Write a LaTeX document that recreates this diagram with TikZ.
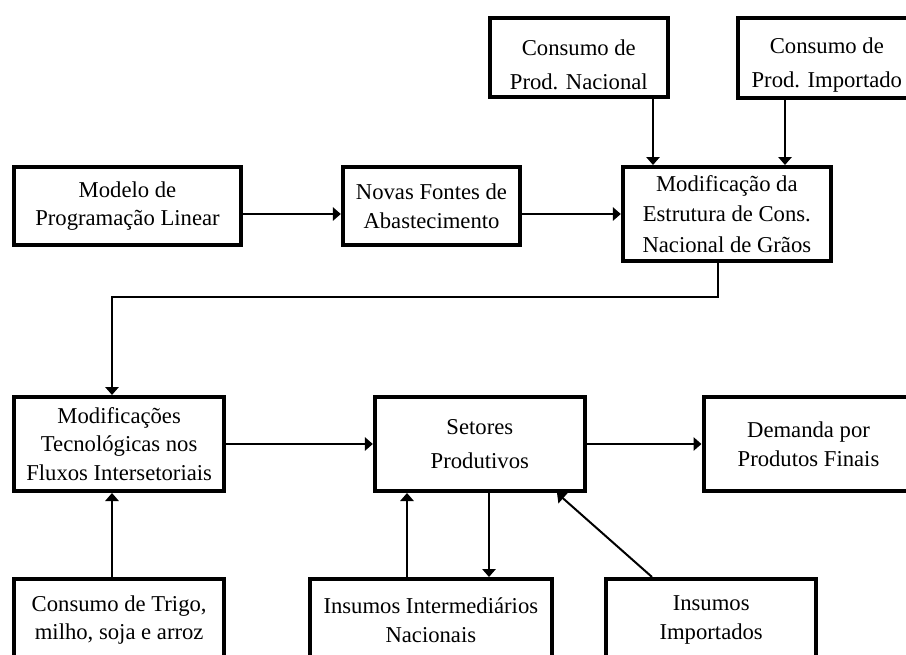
\documentclass[tikz,border=0pt]{standalone}
\usepackage{fontspec}
\setmainfont{Liberation Serif}
\usetikzlibrary{arrows.meta, positioning}

\begin{document}
\begin{tikzpicture}[
    x=0.75pt, y=-0.75pt,
    bloco/.style={rectangle, draw=black, line width=3pt, fill=white,
                 minimum width=157.5pt, minimum height=70.5pt,
                 font=\fontsize{17}{21.5}\selectfont, align=center, inner sep=4pt},
    seta/.style={line width=1.5pt, -{Triangle[width=10pt, length=6pt]}},
  ]
    \clip (0,0) rectangle (906,654);
    \useasboundingbox (0,0) rectangle (906,654);

    % linha de cima
    \node[bloco, minimum width=170pt, minimum height=58.5pt] (modelo) at (127.5,206)
        {Modelo de\\Programação Linear};
    \node[bloco, minimum width=133pt, minimum height=58.5pt, right=73.5pt of modelo] (novas)
        {Novas Fontes de\\Abastecimento};
    \node[bloco, minimum width=156pt, anchor=north west] (modif) at ([xshift=74pt]novas.north east)
        {Modificação da\\[1.5pt]Estrutura de Cons.\\[1.5pt]Nacional de Grãos};
    \node[bloco, minimum width=133pt, minimum height=59pt, above=49.5pt of modif, xshift=-111pt] (consNac)
        {\rule{0pt}{23pt}Consumo de\\[4pt]Prod. Nacional};
    \node[bloco, minimum width=133pt, minimum height=59pt, right=50pt of consNac] (consImp)
        {\rule{0pt}{23pt}Consumo de\\[4pt]Prod. Importado};

    % linha do meio
    \node[bloco, below=111pt of modelo.south west, anchor=north west] (tecn)
        {Modificações\\Tecnológicas nos\\Fluxos Intersetoriais};
    \node[bloco, right=110pt of tecn] (setores) {Setores\\[4pt]Produtivos};
    \node[bloco, right=86pt of setores] (demanda) {Demanda por\\Produtos Finais};

    % linha de baixo
    \node[bloco, minimum height=61.5pt, below=63pt of tecn.south west, anchor=north west] (trigo)
        {Consumo de Trigo,\\milho, soja e arroz};
    \node[bloco, minimum width=181pt, minimum height=61.5pt, right=61.5pt of trigo] (insInt)
        {Insumos Intermediários\\Nacionais};
    \node[bloco, minimum height=61.5pt, right=38pt of insInt] (insImp)
        {Insumos\\Importados};

    \coordinate (dobra) at (112,297);

    \draw[seta] (modelo.east |- modif) -- (novas.west |- modif);
    \draw[seta] (novas.east |- modif) -- (modif.west);
    \draw[seta] (consNac.south -| 653,0) -- (modif.north -| 653,0);
    \draw[seta] (consImp.south -| 785,0) -- (modif.north -| 785,0);
    \draw[seta] (modif.south -| 718,0) |- (dobra) -- (tecn.north -| dobra);
    \draw[seta] (tecn.east) -- (setores.west);
    \draw[seta] (setores.east) -- (demanda.west);
    \draw[seta] (trigo.north -| dobra) -- (tecn.south -| dobra);
    \draw[seta] (insInt.north -| 407,0) -- (setores.south -| 407,0);
    \draw[seta] (setores.south -| 489,0) -- (insInt.north -| 489,0);
    \draw[seta] (insImp.north -| 652,0) -- (setores.south -| 557,0);
  \end{tikzpicture}
\end{document}
